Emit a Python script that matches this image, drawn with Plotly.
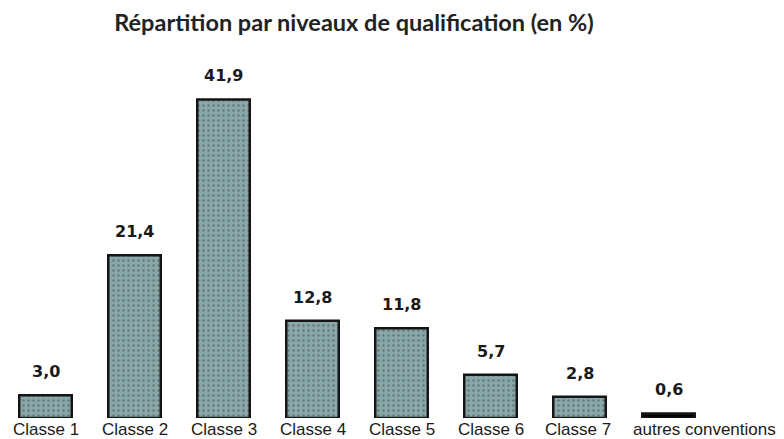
import plotly.graph_objects as go

categories = ["Classe 1", "Classe 2", "Classe 3", "Classe 4", "Classe 5", "Classe 6", "Classe 7", "autres conventions"]
values = [3.0, 21.4, 41.9, 12.8, 11.8, 5.7, 2.8, 0.6]
title_text = "Répartition par niveaux de qualification (en %)"

fill = ["#88a7a8"] * 7 + ["#000000"]
shapes = ["."] * 7 + [""]
label_xshift = [0, 0, 0, 0, 0, 0, -2, 36]

fig = go.Figure()
fig.add_trace(go.Bar(
    x=categories, y=values,
    width=0.59,
    marker=dict(
        color=fill,
        line=dict(color="#151515", width=2.5),
        pattern=dict(shape=shapes, fgcolor="#6f9bb0", size=5, solidity=0.18),
    ),
    hoverinfo="skip",
))
for c, v in zip(categories, values):
    fig.add_annotation(
        x=c, y=v, text=f"<b>{v:.1f}</b>".replace(".", ","),
        showarrow=False, yanchor="bottom", yshift=12,
        font=dict(family="DejaVu Sans", size=16, color="#1a1a1a"),
    )
for c, dx in zip(categories, label_xshift):
    fig.add_annotation(
        x=c, y=0, text=c, showarrow=False, yanchor="top", yshift=0, xshift=dx,
        font=dict(family="Liberation Sans", size=17, color="#1a1a1a"),
    )

fig.update_layout(
    width=784, height=439,
    margin=dict(l=1, r=71, t=53, b=21),
    paper_bgcolor="white", plot_bgcolor="white",
    showlegend=False,
    title=dict(
        text=f"<b>{title_text}</b>",
        x=354 / 784, xanchor="center", y=1 - 23 / 439, yanchor="middle",
        font=dict(family="Lato", size=23.5, color="#222222"),
    ),
    xaxis=dict(
        range=[-0.5, len(categories) - 0.5],
        showgrid=False, showline=False, zeroline=False, ticks="",
        showticklabels=False, automargin=False,
    ),
    yaxis=dict(
        range=[0, 48], visible=False, showgrid=False, zeroline=False,
        automargin=False,
    ),
)

fig.write_html("out.html", config={"displayModeBar": False},
               post_script="document.body.style.margin='0';")
